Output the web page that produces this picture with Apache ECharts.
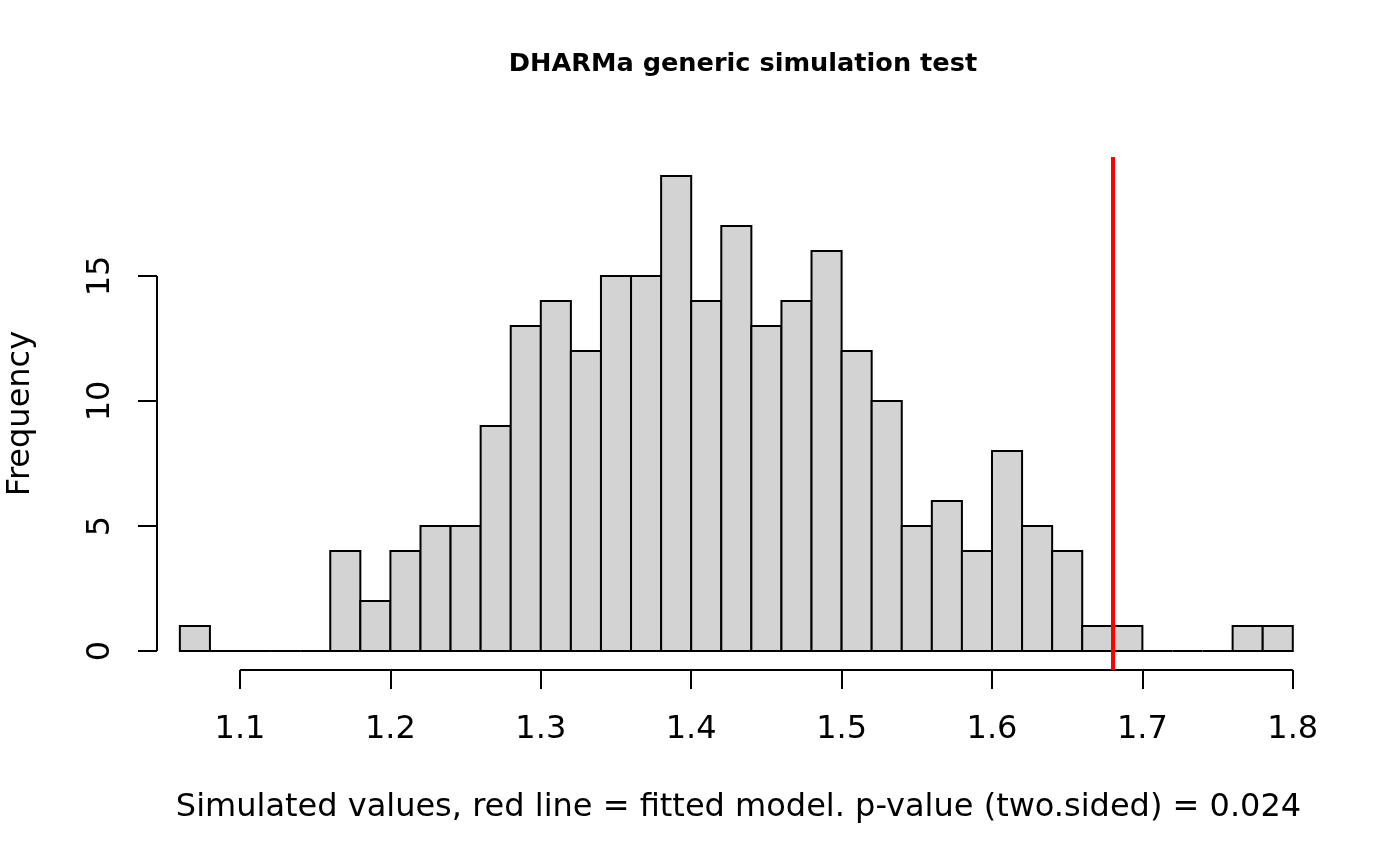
<!DOCTYPE html>
<html>
<head>
<meta charset="utf-8">
<script src="https://cdn.jsdelivr.net/npm/echarts@6/dist/echarts.min.js"></script>
<style>html,body{margin:0;padding:0;background:#fff}#main{width:1400px;height:866px}</style>
</head>
<body>
<div id="main"></div>
<script>
// histogram bins (edges) and counts
var breaks = [1.06,1.08,1.10,1.12,1.14,1.16,1.18,1.20,1.22,1.24,1.26,1.28,1.30,1.32,1.34,1.36,1.38,1.40,1.42,1.44,
              1.46,1.48,1.50,1.52,1.54,1.56,1.58,1.60,1.62,1.64,1.66,1.68,1.70,1.72,1.74,1.76,1.78,1.80];
var counts = [1,0,0,0,0,4,2,4,5,5,9,13,14,12,15,15,19,14,17,13,14,16,12,10,5,6,4,8,5,4,1,1,0,0,0,1,1];
var observed = 1.678;   // fitted model value (red line)
var xTicks = [1.1,1.2,1.3,1.4,1.5,1.6,1.7,1.8];
var yTicks = [0,5,10,15];
var xRange = [1.0448, 1.8181];
var yRange = [-0.76, 19.76];

var font = 'DejaVu Sans';
var myChart = echarts.init(document.getElementById('main'));

var binData = counts.map(function (c, i) { return [breaks[i], breaks[i + 1], c]; });

function renderBar(params, api) {
  var lo = api.value(0), hi = api.value(1), n = api.value(2);
  var p0 = api.coord([lo, 0]), p1 = api.coord([hi, n]);
  if (n === 0) {
    return {type: 'line', shape: {x1: p0[0], y1: p0[1], x2: p1[0], y2: p0[1]},
            style: {stroke: '#000', lineWidth: 2}};
  }
  return {type: 'rect', shape: {x: p0[0], y: p1[1], width: p1[0] - p0[0], height: p0[1] - p1[1]},
          style: {fill: '#d3d3d3', stroke: '#000', lineWidth: 2}};
}

// R style axis lines: only from first to last tick
function renderAxes(params, api) {
  var a = api.coord([xTicks[0], yRange[0]]), b = api.coord([xTicks[xTicks.length - 1], yRange[0]]);
  var c = api.coord([xRange[0], yTicks[0]]), d = api.coord([xRange[0], yTicks[yTicks.length - 1]]);
  return {type: 'group', children: [
    {type: 'line', shape: {x1: a[0], y1: a[1], x2: b[0], y2: b[1]}, style: {stroke: '#000', lineWidth: 2}},
    {type: 'line', shape: {x1: c[0], y1: c[1], x2: d[0], y2: d[1]}, style: {stroke: '#000', lineWidth: 2}}
  ]};
}

option = {
  animation: false,
  backgroundColor: '#fff',
  title: {
    text: 'DHARMa generic simulation test',
    left: 738, top: 46, textAlign: 'center',
    textStyle: {fontFamily: font, fontSize: 25.6, fontWeight: 'bold', color: '#000'}
  },
  grid: {left: 157, right: 80, top: 157, bottom: 196, outerBoundsMode: 'none', containLabel: false},
  xAxis: {
    type: 'value', min: xRange[0], max: xRange[1],
    axisLine: {show: false, onZero: false}, splitLine: {show: false},
    axisTick: {show: true, customValues: xTicks, length: 19, lineStyle: {color: '#000', width: 2}},
    axisLabel: {customValues: xTicks, formatter: function (v) { return v.toFixed(1); },
                fontFamily: font, fontSize: 32, color: '#000', margin: 44},
    name: 'Simulated values, red line = fitted model. p-value (two.sided) = 0.024',
    nameLocation: 'middle', nameGap: 122,
    nameTextStyle: {fontFamily: font, fontSize: 32, color: '#000'}
  },
  yAxis: {
    type: 'value', min: yRange[0], max: yRange[1],
    axisLine: {show: false, onZero: false}, splitLine: {show: false},
    axisTick: {show: true, customValues: yTicks, length: 19, lineStyle: {color: '#000', width: 2}},
    axisLabel: {customValues: yTicks, rotate: 90, fontFamily: font, fontSize: 32, color: '#000', margin: 40},
    name: 'Frequency', nameLocation: 'middle', nameGap: 120, nameRotate: 90,
    nameTextStyle: {fontFamily: font, fontSize: 32, color: '#000'}
  },
  series: [
    {
      type: 'custom', name: 'hist', renderItem: renderBar, data: binData,
      encode: {x: [0, 1], y: 2}, clip: false,
      markLine: {
        silent: true, symbol: 'none', label: {show: false},
        lineStyle: {color: '#ff0000', width: 4, type: 'solid'},
        data: [{xAxis: observed}]
      }
    },
    {type: 'custom', name: 'axes', renderItem: renderAxes, data: [[0]], silent: true, clip: false}
  ]
};
myChart.setOption(option);
</script>
</body>
</html>
